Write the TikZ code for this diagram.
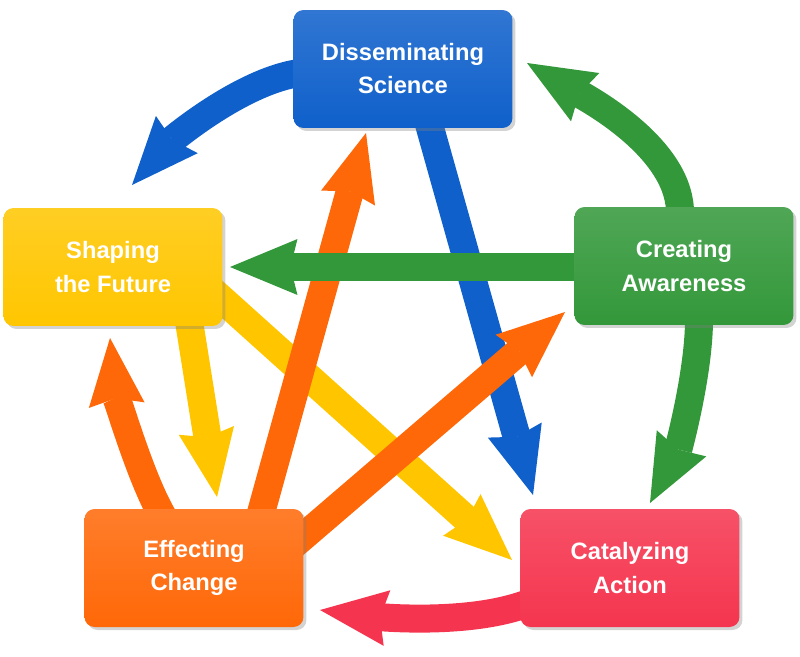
\documentclass[tikz,border=0pt]{standalone}
\usepackage{fontspec}
\setmainfont{Liberation Sans}
\usetikzlibrary{arrows.meta,calc,shadows,backgrounds}

\definecolor{dissblue}{HTML}{0F60CB}
\definecolor{awgreen}{HTML}{33983A}
\definecolor{futyellow}{HTML}{FFC600}
\definecolor{chgorange}{HTML}{FF6808}
\definecolor{actred}{HTML}{F5354F}

\tikzset{
  stage/.style={draw=none, rounded corners=0.2cm, minimum width=4.38cm,
    minimum height=2.36cm, align=center, text=white,
    font=\bfseries\fontsize{13.5}{18.8}\selectfont,
    top color=#1!86!white, middle color=#1, bottom color=#1,
    drop shadow={shadow xshift=0.06cm, shadow yshift=-0.06cm, opacity=0.35}},
  flow/.style={line width=0.56cm, ->}
}

\begin{document}
\begin{tikzpicture}[x=0.02cm, y=-0.02cm,
  >={Stealth[length=1.35cm, width=1.12cm, inset=0.14cm, line width=0pt]}]
  \useasboundingbox (0,0) rectangle (800,656);

  % the five stages
  \node[stage=dissblue] (diss) at (403,69) {Disseminating\\Science};
  \node[stage=awgreen] (awr) at (684,266) {Creating\\Awareness};
  \node[stage=futyellow] (fut) at (113,267) {Shaping\\the Future};
  \node[stage=chgorange] (chg) at (194,568) {Effecting\\Change};
  \node[stage=actred] (act) at (630,568) {Catalyzing\\Action};

  \begin{pgfonlayer}{background}
    % yellow
    \draw[flow,futyellow] ($(fut)+(75,48)$) -- ($(chg)+(23,-71)$);
    \draw[flow,futyellow] ($(fut)+(92,17)$) -- ($(act)+(-118,-8)$);
    % blue
    \draw[flow,dissblue] ($(diss)+(-93,3)$) .. controls +(-60,2) and +(40,-45) .. ($(fut)+(19,-82)$);
    \draw[flow,dissblue] ($(diss)+(22,41)$) -- ($(act)+(-97,-73)$);
    % orange
    \draw[flow,chgorange] ($(chg)+(-29,-48)$) .. controls +(-25,-40) and +(5,50) .. ($(fut)+(-3,71)$);
    \draw[flow,chgorange] ($(chg)+(65,-48)$) -- ($(diss)+(-37,64)$);
    \draw[flow,chgorange] ($(chg)+(96,-20)$) -- ($(awr)+(-119,46)$);
    % green
    \draw[flow,awgreen] ($(awr)+(-4,-51)$) .. controls +(2,-65) and +(63,37) .. ($(diss)+(124,-6)$);
    \draw[flow,awgreen] ($(awr)+(-94,1)$) -- ($(fut)+(117,0)$);
    \draw[flow,awgreen] ($(awr)+(15,49)$) .. controls +(1,55) and +(28,-53) .. ($(act)+(20,-65)$);
    % red
    \draw[flow,actred] ($(act)+(-90,30)$) .. controls +(-60,30) and +(50,6) .. ($(chg)+(126,42)$);
  \end{pgfonlayer}
\end{tikzpicture}
\end{document}
